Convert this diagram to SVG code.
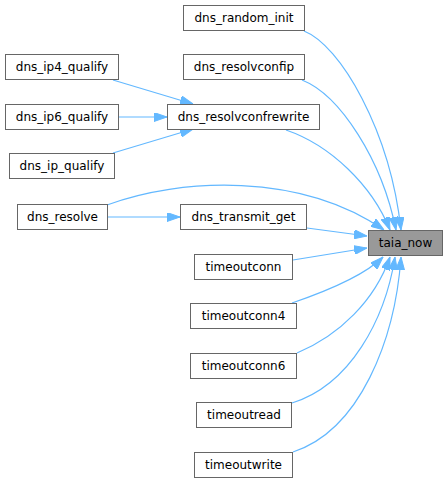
<svg xmlns="http://www.w3.org/2000/svg" width="448" height="483" viewBox="0 0 448 483">
<style>
.n rect{fill:#ffffff;stroke:#666666;stroke-width:1}
.n.hl rect{fill:#999999}
.n text{font-family:"DejaVu Sans",sans-serif;font-size:12px;fill:#000000;text-anchor:middle}
.e path{fill:none;stroke:#63b8ff;stroke-width:1.2;marker-end:url(#ah)}
</style>
<defs>
<marker id="ah" markerUnits="userSpaceOnUse" viewBox="0 0 13 9" markerWidth="13" markerHeight="9" refX="13" refY="4.5" orient="auto">
<path d="M0,0 L13,4.5 L0,9 z" fill="#63b8ff" stroke="#63b8ff" stroke-width="1"/>
</marker>
</defs>
<rect width="448" height="483" fill="#ffffff"/>
<g id="edges" class="e">
<path d="M304,31 C340,45 390,130 401,230"/>
<path d="M302,80 C340,95 382,160 396,230"/>
<path d="M286,130 C330,145 372,185 390,230"/>
<path d="M107,205 C180,178 300,172 384,230"/>
<path d="M307,228 L367,236"/>
<path d="M293,260 L367,248"/>
<path d="M292,303 C330,290 365,275 383,257"/>
<path d="M297,353 C340,335 375,300 390,257"/>
<path d="M292,403 C350,385 385,320 395,257"/>
<path d="M293,452 C360,430 395,340 401,257"/>
<path d="M113,80 L193,104"/>
<path d="M119,117 L167,117"/>
<path d="M113,153 L193,129"/>
<path d="M108,217 L180,217"/>
</g>
<g id="dns_random_init" class="n"><rect x="183.5" y="5.5" width="121" height="25"/><text x="244" y="22">dns_random_init</text></g>
<g id="dns_resolvconfip" class="n"><rect x="183.5" y="54.5" width="121" height="25"/><text x="244" y="71">dns_resolvconfip</text></g>
<g id="dns_ip4_qualify" class="n"><rect x="5.5" y="54.5" width="113" height="25"/><text x="62" y="71">dns_ip4_qualify</text></g>
<g id="dns_ip6_qualify" class="n"><rect x="5.5" y="104.5" width="113" height="25"/><text x="62" y="121">dns_ip6_qualify</text></g>
<g id="dns_resolvconfrewrite" class="n"><rect x="167.5" y="104.5" width="152" height="25"/><text x="243.5" y="121">dns_resolvconfrewrite</text></g>
<g id="dns_ip_qualify" class="n"><rect x="9.5" y="153.5" width="105" height="25"/><text x="62" y="170">dns_ip_qualify</text></g>
<g id="dns_resolve" class="n"><rect x="17.5" y="204.5" width="90" height="25"/><text x="62.5" y="221">dns_resolve</text></g>
<g id="dns_transmit_get" class="n"><rect x="180.5" y="204.5" width="126" height="25"/><text x="243.5" y="221">dns_transmit_get</text></g>
<g id="taia_now" class="n hl"><rect x="368.5" y="230.5" width="74" height="25"/><text x="405.5" y="247">taia_now</text></g>
<g id="timeoutconn" class="n"><rect x="194.5" y="254.5" width="98" height="25"/><text x="243.5" y="271">timeoutconn</text></g>
<g id="timeoutconn4" class="n"><rect x="190.5" y="303.5" width="106" height="25"/><text x="243.5" y="320">timeoutconn4</text></g>
<g id="timeoutconn6" class="n"><rect x="190.5" y="353.5" width="106" height="25"/><text x="243.5" y="370">timeoutconn6</text></g>
<g id="timeoutread" class="n"><rect x="196.5" y="402.5" width="95" height="25"/><text x="244" y="419">timeoutread</text></g>
<g id="timeoutwrite" class="n"><rect x="194.5" y="452.5" width="98" height="25"/><text x="243.5" y="469">timeoutwrite</text></g>
</svg>
